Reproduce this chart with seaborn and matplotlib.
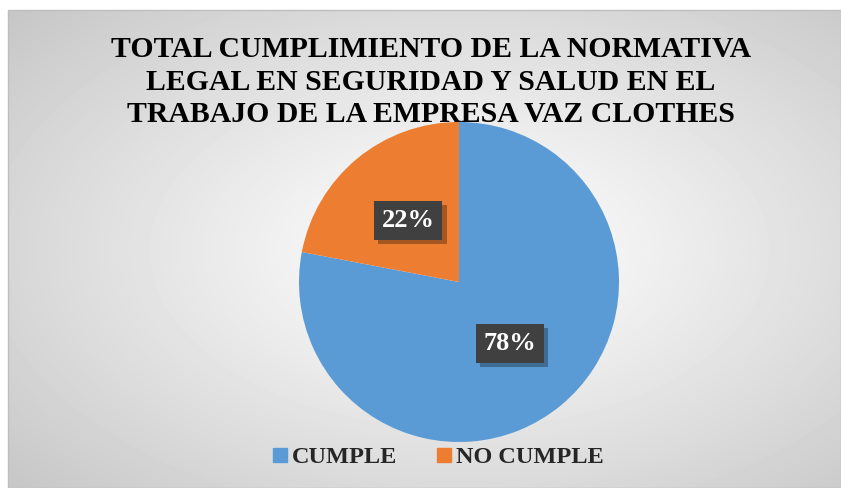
import numpy as np
import matplotlib
matplotlib.use('Agg')
import matplotlib.pyplot as plt
import matplotlib.patheffects as pe
from matplotlib.patches import Rectangle
from matplotlib.lines import Line2D
import seaborn as sns

# data
labels = ['CUMPLE', 'NO CUMPLE']
values = [78, 22]
colors = ['#5B9BD5', '#ED7D31']
title = 'TOTAL CUMPLIMIENTO DE LA NORMATIVA\nLEGAL EN SEGURIDAD Y SALUD EN EL\nTRABAJO DE LA EMPRESA VAZ CLOTHES'

sns.set_theme(style='white')
plt.rcParams['font.family'] = ['Liberation Serif', 'DejaVu Serif']

W, H = 841, 488
fig = plt.figure(figsize=(W / 100, H / 100), dpi=100)

# background: white margin + radial gradient chart area
bg = fig.add_axes([0, 0, 1, 1])
bg.set_xlim(0, W)
bg.set_ylim(H, 0)
bg.axis('off')
x0, y0, x1, y1 = 8, 10, 841, 488
xx, yy = np.meshgrid(np.arange(x0, x1), np.arange(y0, y1))
cx, cy = 459, 250
d = np.sqrt(((xx - cx) / ((x1 - x0) / 2)) ** 2 + ((yy - cy) / ((y1 - y0) / 2)) ** 2)
g = 1 - 0.22 * np.clip(d / 1.45, 0, 1) ** 1.1
bg.imshow(g, cmap='gray', vmin=0, vmax=1, extent=(x0, x1, y1, y0), aspect='auto', interpolation='bilinear')
bg.add_patch(Rectangle((x0, y0), x1 - x0, y1 - y0, fill=False, edgecolor='#BEBEBE', lw=1))

# pie
cxp, cyp, r = 459, 282, 160
ax = fig.add_axes([(cxp - r) / W, (H - cyp - r) / H, 2 * r / W, 2 * r / H])
wedges, texts = ax.pie(values, colors=colors, startangle=90, counterclock=False,
                       wedgeprops=dict(linewidth=0), radius=1)
ax.set_xlim(-1, 1)
ax.set_ylim(-1, 1)
ax.axis('off')

# percentage labels with dark boxes and soft shadow
total = sum(values)
for w, v in zip(wedges, values):
    ang = np.deg2rad((w.theta1 + w.theta2) / 2)
    px, py = 0.5 * np.cos(ang), 0.5 * np.sin(ang)
    t = ax.text(px, py, f'{round(v / total * 100)}%', ha='center', va='center',
                fontsize=19, fontweight='bold', color='white',
                bbox=dict(boxstyle='square,pad=0.3', facecolor='#404040', edgecolor='none'))
    t.get_bbox_patch().set_path_effects([
        pe.SimplePatchShadow(offset=(3, -3), shadow_rgbFace='black', alpha=0.3), pe.Normal()])

# title
fig.text(431 / W, 1 - 36 / H, title, ha='center', va='top', fontsize=21.4, fontweight='bold',
         color='black', linespacing=1.27)

# legend
handles = [Line2D([], [], marker='s', linestyle='none', markersize=10, color=c) for c in colors]
fig.legend(handles, labels, loc='center', bbox_to_anchor=(437 / W, 1 - 457 / H), ncol=2,
           frameon=False, prop=dict(family='Liberation Serif', weight='bold', size=17.5),
           handletextpad=0.1, columnspacing=1.5, handlelength=0.8)

fig.savefig('out.png', dpi=100)
